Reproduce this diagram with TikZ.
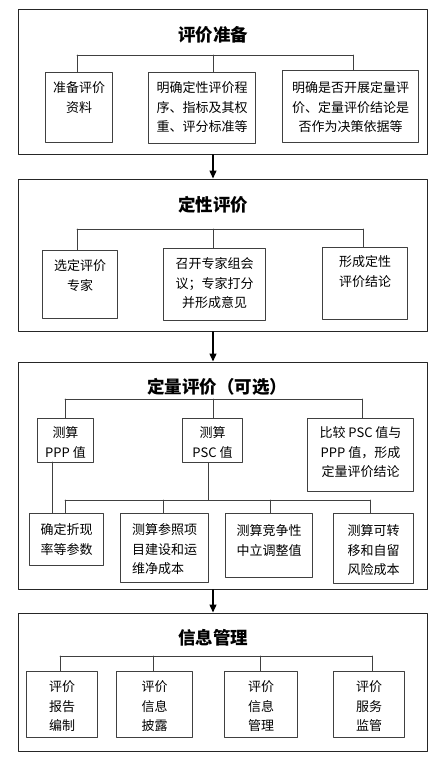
\documentclass[tikz,border=0pt]{standalone}
\usepackage{fontspec}
\setmainfont{Noto Sans CJK SC}
\usetikzlibrary{positioning, calc, arrows.meta}

\tikzset{
  frame/.style={draw=black!85, line width=0.9pt, anchor=north west, inner sep=0pt},
  cell/.style={draw=black!75, line width=1pt, anchor=north west, inner sep=0pt},
  hd/.style={font=\bfseries\fontsize{17.5}{20}\selectfont, inner sep=0pt},
  tx/.style={font=\fontsize{13}{19.5}\selectfont, align=center, anchor=north, inner sep=0pt, yshift=-9.5pt},
  link/.style={draw=black!75, line width=0.9pt},
  flow/.style={-{Triangle[length=8pt,width=7pt]}, line width=1.4pt, shorten >=0.5pt},
}

\begin{document}
\begin{tikzpicture}[x=1pt,y=-1pt, line cap=round, line join=round]

\useasboundingbox (0,0) rectangle (445,758);

% evaluation preparation
\node[frame, minimum width=409pt, minimum height=145pt] (s1) at (18,9) {};
\node[hd] (h1) at (213,35) {评价准备};

\node[cell, minimum width=67pt, minimum height=70pt, label={[tx]north:{准备评价\\资料}}] (a1) at (45,72) {};
\node[cell, minimum width=107pt, minimum height=71pt, label={[tx]north:{明确定性评价程\\序、指标及其权\\重、评分标准等}}] (a2) at (148,72) {};
\node[cell, minimum width=136pt, minimum height=72pt, label={[tx, yshift=-2pt]north:{明确是否开展定量评\\价、定量评价结论是\\否作为决策依据等}}] (a3) at (282,70) {};

\coordinate (j1a) at (77,55);
\coordinate (j1b) at (213,55);
\coordinate (j1c) at (353,55);
\draw[link] (j1a) -- (j1c);
\draw[link] (j1a) -- (j1a |- a1.north);
\draw[link] (j1b) -- (j1b |- a2.north);
\draw[link] (j1c) -- (j1c |- a3.north);

% qualitative evaluation
\node[frame, minimum width=409pt, minimum height=152pt] (s2) at (18,179) {};
\node[hd] (h2) at (213,205) {定性评价};

\node[cell, minimum width=75pt, minimum height=68pt, label={[tx]north:{选定评价\\专家}}] (b1) at (42,250) {};
\node[cell, minimum width=102pt, minimum height=72pt, label={[tx]north:{召开专家组会\\议；专家打分\\并形成意见}}] (b2) at (163,248) {};
\node[cell, minimum width=85pt, minimum height=72pt, label={[tx, yshift=1pt]north:{形成定性\\评价结论}}] (b3) at (322,247) {};

\coordinate (j2a) at (77,229);
\coordinate (j2b) at (213,229);
\coordinate (j2c) at (363,229);
\draw[link] (j2a) -- (j2c);
\draw[link] (j2a) -- (j2a |- b1.north);
\draw[link] (j2b) -- (j2b |- b2.north);
\draw[link] (j2c) -- (j2c |- b3.north);

% quantitative evaluation
\node[frame, minimum width=409pt, minimum height=227pt] (s3) at (18,362) {};
\node[hd] (h3) at (217,387) {定量评价（可选）};

\node[cell, minimum width=56pt, minimum height=44pt, label={[tx, yshift=1pt]north:{测算\\PPP 值}}] (c1) at (37,418) {};
\node[cell, minimum width=60pt, minimum height=44pt, label={[tx, yshift=1pt]north:{测算\\PSC 值}}] (c2) at (182,418) {};
\node[cell, minimum width=106pt, minimum height=73pt, label={[tx, yshift=1pt]north:{比较 PSC 值与\\PPP 值，形成\\定量评价结论}}] (c3) at (307,418) {};

\coordinate (j3a) at (65,399);
\coordinate (j3b) at (213,399);
\coordinate (j3c) at (362,399);
\draw[link] (j3a) -- (j3c);
\draw[link] (j3a) -- (j3a |- c1.north);
\draw[link] (j3b) -- (j3b |- c2.north);
\draw[link] (j3c) -- (j3c |- c3.north);

\node[cell, minimum width=74pt, minimum height=52pt, label={[tx, yshift=-1pt]north:{确定折现\\率等参数}}] (d1) at (29,513) {};
\node[cell, minimum width=88pt, minimum height=69pt, label={[tx, align=left, yshift=-1pt]north:{测算参照项\\目建设和运\\维净成本}}] (d2) at (120,513) {};
\node[cell, minimum width=87pt, minimum height=64pt, label={[tx, yshift=-2pt]north:{测算竞争性\\中立调整值}}] (d3) at (225,513) {};
\node[cell, minimum width=80pt, minimum height=70pt, label={[tx, yshift=-2pt]north:{测算可转\\移和自留\\风险成本}}] (d4) at (333,513) {};

\coordinate (k3a) at (65,500);
\coordinate (k3b) at (163,500);
\coordinate (k3c) at (270,500);
\coordinate (k3d) at (370,500);
\coordinate (k3p) at (208,500);
\draw[link] (k3a) -- (k3d);
\draw[link] (c2.south -| k3p) -- (k3p);
\draw[link] (k3a) -- (k3a |- d1.north);
\draw[link] (k3b) -- (k3b |- d2.north);
\draw[link] (k3c) -- (k3c |- d3.north);
\draw[link] (k3d) -- (k3d |- d4.north);
\coordinate (k3q) at (52,462);
\draw[link] (k3q) -- (k3q |- d1.north);

% information management
\node[frame, minimum width=409pt, minimum height=138pt] (s4) at (18,613) {};
\node[hd] (h4) at (213,638) {信息管理};

\node[cell, minimum width=71pt, minimum height=66pt, label={[tx]north:{评价\\报告\\编制}}] (e1) at (26,671) {};
\node[cell, minimum width=76pt, minimum height=66pt, label={[tx]north:{评价\\信息\\披露}}] (e2) at (116,671) {};
\node[cell, minimum width=73pt, minimum height=66pt, label={[tx]north:{评价\\信息\\管理}}] (e3) at (224,671) {};
\node[cell, minimum width=71pt, minimum height=66pt, label={[tx]north:{评价\\服务\\监管}}] (e4) at (333,671) {};

\coordinate (j4a) at (60,656);
\coordinate (j4b) at (153,656);
\coordinate (j4c) at (260,656);
\coordinate (j4d) at (372,656);
\draw[link] (j4a) -- (j4d);
\draw[link] (j4a) -- (j4a |- e1.north);
\draw[link] (j4b) -- (j4b |- e2.north);
\draw[link] (j4c) -- (j4c |- e3.north);
\draw[link] (j4d) -- (j4d |- e4.north);

% stage arrows
\draw[flow] (h1 |- s1.south) -- (h1 |- s2.north);
\draw[flow] (h2 |- s2.south) -- (h2 |- s3.north);
\draw[flow] (h4 |- s3.south) -- (h4 |- s4.north);

\end{tikzpicture}
\end{document}
